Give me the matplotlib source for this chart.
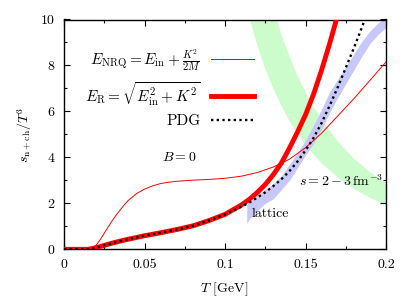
import matplotlib
matplotlib.use('Agg')
import matplotlib.pyplot as plt
from matplotlib.ticker import MultipleLocator, FormatStrFormatter

plt.rcParams['font.family'] = 'serif'
plt.rcParams['font.serif'] = ['cmr10', 'DejaVu Serif']
plt.rcParams['mathtext.fontset'] = 'cm'
plt.rcParams['axes.formatter.use_mathtext'] = True
plt.rcParams['font.size'] = 10

# thin red: E_NRQ = E_in + K^2/2M
T_nrq = [0, 0.015, 0.018, 0.02, 0.0225, 0.025, 0.0275, 0.03, 0.0325, 0.035,
         0.0375, 0.04, 0.045, 0.05, 0.055, 0.06, 0.065, 0.07, 0.08, 0.09,
         0.1, 0.11, 0.12, 0.13, 0.14, 0.15, 0.16, 0.17, 0.18, 0.19, 0.2]
s_nrq = [0, 0, 0.07, 0.18, 0.42, 0.7, 0.98, 1.25, 1.5, 1.72,
         1.94, 2.13, 2.42, 2.62, 2.76, 2.86, 2.92, 2.96, 3.01, 3.04,
         3.09, 3.18, 3.34, 3.58, 3.92, 4.42, 5.05, 5.8, 6.55, 7.35, 8.15]

# thick red: E_R = sqrt(E_in^2 + K^2)
T_rel = [0, 0.015, 0.02, 0.025, 0.03, 0.035, 0.04, 0.05, 0.06, 0.07, 0.08,
         0.09, 0.1, 0.105, 0.11, 0.115, 0.12, 0.125, 0.13, 0.135, 0.14,
         0.145, 0.15, 0.155, 0.16, 0.165, 0.17, 0.172]
s_rel = [0, 0, 0.07, 0.17, 0.27, 0.36, 0.44, 0.59, 0.72, 0.86, 1.02,
         1.25, 1.52, 1.72, 1.92, 2.17, 2.47, 2.82, 3.25, 3.75, 4.4,
         5.1, 5.85, 6.75, 7.8, 8.95, 10.2, 10.7]

# dotted black: PDG
T_pdg = [0, 0.015, 0.02, 0.025, 0.03, 0.035, 0.04, 0.05, 0.06, 0.07, 0.08,
         0.09, 0.1, 0.105, 0.11, 0.115, 0.12, 0.125, 0.13, 0.135, 0.14,
         0.145, 0.15, 0.155, 0.16, 0.165, 0.17, 0.175, 0.18, 0.185, 0.19]
s_pdg = [0, 0, 0.07, 0.17, 0.27, 0.36, 0.44, 0.59, 0.72, 0.86, 1.02,
         1.25, 1.52, 1.68, 1.85, 2.03, 2.25, 2.48, 2.75, 3.05, 3.4,
         3.82, 4.3, 4.85, 5.5, 6.25, 7.05, 7.9, 8.75, 9.65, 10.6]

# lattice band
T_lat = [0.1135, 0.115, 0.12, 0.125, 0.13, 0.135, 0.14, 0.145, 0.15, 0.155,
         0.16, 0.165, 0.17, 0.175, 0.18, 0.185, 0.19, 0.195, 0.2]
lat_hi = [1.95, 2.05, 2.35, 2.6, 2.85, 3.2, 3.7, 4.2, 4.75, 5.4,
          6.1, 6.85, 7.4, 7.95, 8.5, 9.05, 9.5, 9.85, 10.1]
lat_lo = [1.12, 1.3, 1.7, 2.0, 2.2, 2.6, 3.0, 3.55, 4.1, 4.6,
          5.25, 5.95, 6.6, 7.2, 7.8, 8.4, 8.95, 9.35, 9.65]

# s = 2 - 3 fm^-3 band
T_s = [0.115, 0.12, 0.125, 0.13, 0.135, 0.14, 0.145, 0.15, 0.155, 0.16,
       0.17, 0.18, 0.19, 0.2]
s2 = [10.1, 8.9, 7.85, 7.0, 6.25, 5.6, 5.05, 4.55, 4.13, 3.75,
      3.13, 2.63, 2.24, 1.92]
s3 = [15.1, 13.3, 11.8, 10.5, 9.35, 8.4, 7.55, 6.85, 6.2, 5.65,
      4.7, 3.95, 3.36, 2.9]

fig = plt.figure(figsize=(4.16, 3.0), dpi=100)
ax = fig.add_axes([64/416, 1-249.3/300, 322/416, 229.8/300])

ax.fill_between(T_s, s2, s3, color='#ccfccc', lw=0, zorder=1)
ax.fill_between(T_lat, lat_lo, lat_hi, color='#c8c8f8', lw=0, zorder=2)
l1, = ax.plot(T_nrq, s_nrq, color='red', lw=0.7, zorder=3)
l2, = ax.plot(T_rel, s_rel, color='red', lw=3.5, zorder=4)
l3, = ax.plot(T_pdg, s_pdg, color='black', lw=1.7, ls=(0, (1, 1.4)),
              dash_capstyle='butt', zorder=5)

ax.set_xlim(0, 0.2)
ax.set_ylim(0, 10)
ax.xaxis.set_major_locator(MultipleLocator(0.05))
ax.xaxis.set_minor_locator(MultipleLocator(0.025))
ax.yaxis.set_major_locator(MultipleLocator(2))
ax.yaxis.set_minor_locator(MultipleLocator(1))
ax.xaxis.set_major_formatter(FormatStrFormatter('%g'))
ax.yaxis.set_major_formatter(FormatStrFormatter('%g'))
ax.tick_params(which='both', direction='in', top=True, right=True, width=0.8)
ax.tick_params(which='major', length=4, pad=7)
ax.tick_params(which='minor', length=2)
for sp in ax.spines.values():
    sp.set_linewidth(1.0)

ax.set_xlabel(r'$T$ [GeV]')
ax.set_ylabel(r'$s_{\rm n+ch}/T^3$')
ax.xaxis.set_label_coords(0.497, -0.135)
ax.yaxis.set_label_coords(-0.093, 0.5)

ax.text(0.0715, 4.0, r'$B=0$', ha='center', va='center')
ax.text(0.1985, 2.95, r'$s=2-3\,{\rm fm}^{-3}$', ha='right', va='center')
ax.text(0.128, 1.55, 'lattice', ha='center', va='center')

ax.legend([l1, l2, l3],
          [r'$E_{\rm NRQ}=E_{\rm in}+\frac{K^2}{2M}$',
           r'$E_{\rm R}=\sqrt{E_{\rm in}^2+K^2}$',
           'PDG'],
          markerfirst=False, frameon=False, loc='upper right',
          bbox_to_anchor=(254/416, 1-47/300), bbox_transform=fig.transFigure,
          borderpad=0, borderaxespad=0, handlelength=2.8, handletextpad=0.7,
          labelspacing=0.45, fontsize=11)

fig.savefig('out.png', dpi=100)
